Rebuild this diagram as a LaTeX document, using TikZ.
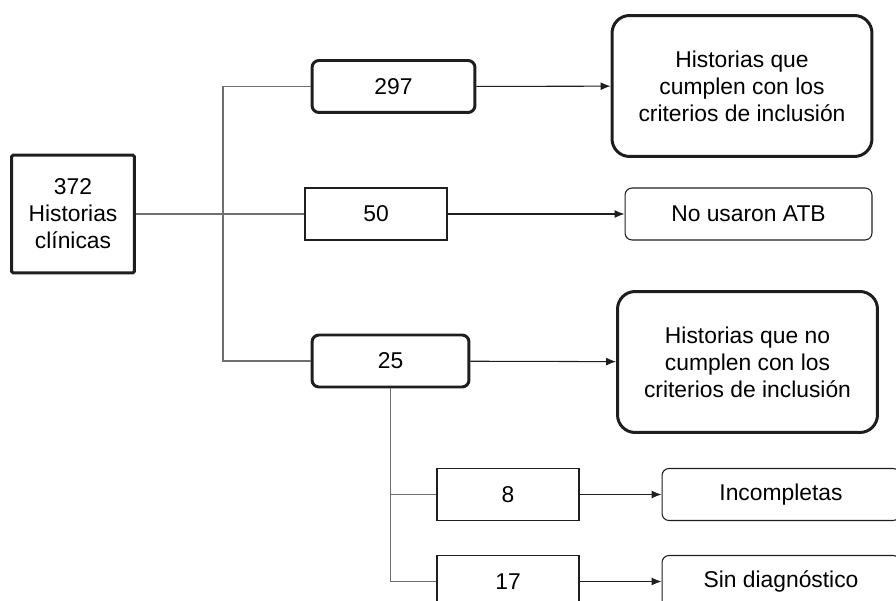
\documentclass[tikz,border=0pt]{standalone}
\usepackage{fontspec}
\setmainfont{Liberation Sans}
\usetikzlibrary{arrows.meta, positioning}
\definecolor{mydark}{RGB}{30,30,30}
\definecolor{mygray}{RGB}{110,110,110}
\tikzset{
  srcbox/.style={rectangle, draw=mydark, line width=1.7pt, rounded corners=1pt,
    minimum width=2.46cm, minimum height=2.36cm, align=center,
    font=\fontsize{13}{15.3}\selectfont},
  countbox/.style={rectangle, draw=mydark, line width=1.7pt, rounded corners=4pt,
    minimum height=1.04cm, font=\fontsize{13}{15.3}\selectfont},
  subbox/.style={rectangle, draw=mydark, line width=0.6pt,
    minimum width=2.84cm, minimum height=1.04cm, font=\fontsize{13}{15.3}\selectfont},
  bigbox/.style={rectangle, draw=mydark, line width=1.7pt, rounded corners=10pt,
    minimum width=5.2cm, minimum height=2.82cm, align=center,
    font=\fontsize{13}{15.3}\selectfont},
  resbox/.style={rectangle, draw=mydark, line width=0.6pt, rounded corners=4pt,
    minimum height=1.04cm, font=\fontsize{13}{15.3}\selectfont},
  arrow/.style={-{Latex[length=2mm,width=1.6mm]}, line width=0.6pt, color=mydark},
  line/.style={line width=0.6pt, color=mygray}
}
\begin{document}
\begin{tikzpicture}[x=0.02cm, y=-0.02cm]
  \useasboundingbox (0,0) rectangle (896,601);
  \clip (0,0) rectangle (896,601);

  % Source
  \node[srcbox] (src) at (73,214) {372\\Historias\\clínicas};

  % First level counts
  \node[countbox, minimum width=3.26cm] (n297) at (393.5,86.5) {297};
  \node[subbox] (n50) at (376,214) {50};
  \node[countbox, minimum width=3.14cm] (n25) at (390.5,361) {25};

  % Outcomes
  \node[bigbox] (incl) at (742,86) {Historias que\\cumplen con los\\criterios de inclusión};
  \node[resbox, minimum width=4.94cm] (noatb) at (748.5,214) {No usaron ATB};
  \node[bigbox] (excl) at (747.5,362) {Historias que no\\cumplen con los\\criterios de inclusión};

  % Second level
  \node[subbox] (n8) at (508,494.5) {8};
  \node[subbox] (n17) at (508,581.5) {17};
  \node[resbox, minimum width=4.76cm] (incomp) at (781,494.5) {Incompletas};
  \node[resbox, minimum width=4.76cm] (sindx) at (781,581.5) {Sin diagnóstico};

  % Trunk
  \coordinate (jt) at (223,214);
  \draw[line] (src) -- (n50);
  \draw[line] (jt) |- (n297);
  \draw[line] (jt) |- (n25);
  \draw[line] (n25.south) |- (n8);
  \draw[line] (n25.south) |- (n17);

  % Arrows
  \draw[arrow] (n297) -- (incl);
  \draw[arrow] (n50) -- (noatb);
  \draw[arrow] (n25) -- (excl);
  \draw[arrow] (n8) -- (incomp);
  \draw[arrow] (n17) -- (sindx);
\end{tikzpicture}
\end{document}
